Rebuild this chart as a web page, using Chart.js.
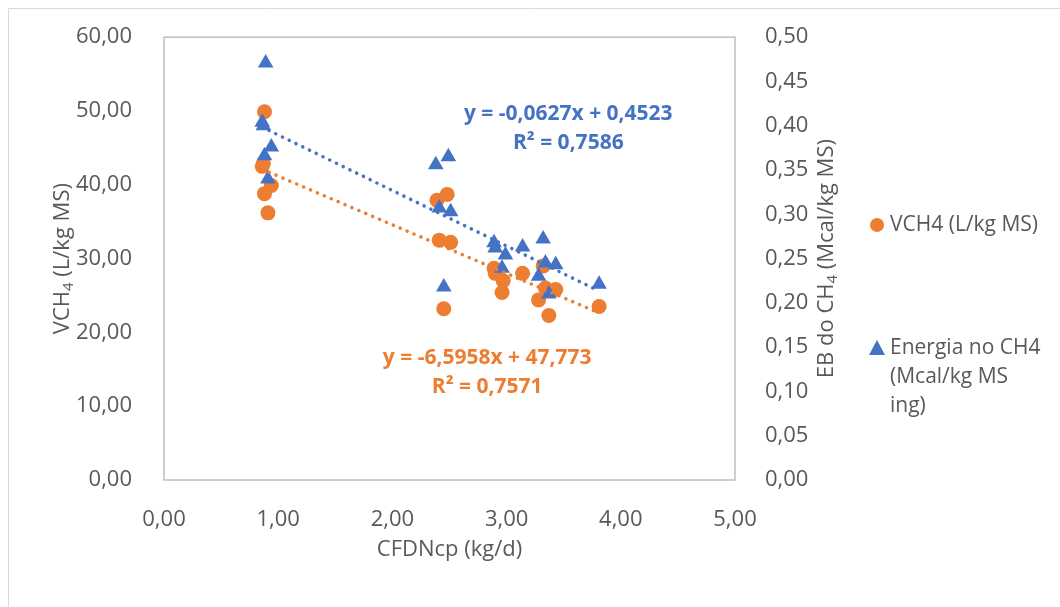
<!DOCTYPE html>
<html>
<head>
<meta charset="utf-8">
<script src="https://cdn.jsdelivr.net/npm/chart.js@4.4.1/dist/chart.umd.min.js"></script>
<style>
  html, body { margin: 0; padding: 0; background: #fff; }
  #wrap { width: 1060px; height: 607px; }
</style>
</head>
<body>
<div id="wrap"><canvas id="grafico"></canvas></div>
<script>
// dados
const xVch4 = [0.88, 0.87, 0.86, 0.94, 0.88, 0.91,
  2.39, 2.48, 2.41, 2.51, 2.45,
  2.89, 2.90, 2.97, 2.96, 3.14, 3.32, 3.34, 3.43, 3.28, 3.37, 3.81];
const vch4 = [49.9, 42.9, 42.5, 39.9, 38.8, 36.2,
  37.9, 38.7, 32.5, 32.2, 23.2,
  28.7, 28.0, 27.0, 25.4, 28.0, 29.0, 26.0, 25.8, 24.4, 22.3, 23.5];

const xEnergia = [0.89, 0.86, 0.87, 0.94, 0.88, 0.91,
  2.38, 2.49, 2.41, 2.51, 2.45,
  2.89, 2.90, 2.99, 2.96, 3.14, 3.32, 3.34, 3.43, 3.28, 3.37, 3.81];
const energia = [0.471, 0.404, 0.400, 0.376, 0.366, 0.340,
  0.356, 0.365, 0.307, 0.303, 0.218,
  0.268, 0.262, 0.254, 0.239, 0.263, 0.272, 0.245, 0.243, 0.230, 0.210, 0.221];

// linhas de tendência (equações do gráfico)
const coefVch4 = [-6.5958, 47.773];
const r2Vch4 = 0.7571;
const coefEnergia = [-0.0627, 0.4523];
const r2Energia = 0.7586;

// ticks
const xTicks = [0, 1, 2, 3, 4, 5];
const yTicks = [0, 10, 20, 30, 40, 50, 60];
const y2Ticks = [0, 0.05, 0.10, 0.15, 0.20, 0.25, 0.30, 0.35, 0.40, 0.45, 0.50];

const laranja = "#ED7D31";
const azul = "#4472C4";
const cinza = "#595959";
const fonte = "'Open Sans', 'Noto Sans', sans-serif";

function virgula(v, casas) {
  return v.toFixed(casas).replace(".", ",");
}

function pontos(xs, ys) {
  return xs.map((x, i) => ({ x: x, y: ys[i] }));
}

function tendencia(xs, coef) {
  const x0 = Math.min(...xs);
  const x1 = Math.max(...xs);
  return [
    { x: x0, y: coef[0] * x0 + coef[1] },
    { x: x1, y: coef[0] * x1 + coef[1] },
  ];
}

// texto com subscrito (CH4)
function textoSub(ctx, partes, x, y, tam) {
  // partes: [texto, ehSub]
  let largura = 0;
  partes.forEach(p => {
    ctx.font = (p[1] ? tam * 0.68 : tam) + "px " + fonte;
    largura += ctx.measureText(p[0]).width;
  });
  let cx = x - largura / 2;
  partes.forEach(p => {
    ctx.font = (p[1] ? tam * 0.68 : tam) + "px " + fonte;
    ctx.fillText(p[0], cx, p[1] ? y + tam * 0.28 : y);
    cx += ctx.measureText(p[0]).width;
  });
}

const extras = {
  id: "extras",
  beforeDraw(chart) {
    const ctx = chart.ctx;
    ctx.save();
    ctx.strokeStyle = "#d9d9d9";
    ctx.lineWidth = 1;
    ctx.beginPath();
    ctx.moveTo(8.5, 607);
    ctx.lineTo(8.5, 8.5);
    ctx.lineTo(1060, 8.5);
    ctx.stroke();
    ctx.restore();
  },
  beforeDatasetsDraw(chart) {
    const a = chart.chartArea;
    const ctx = chart.ctx;
    ctx.save();
    ctx.strokeStyle = "#bfbfbf";
    ctx.lineWidth = 1.5;
    ctx.strokeRect(a.left, a.top, a.right - a.left, a.bottom - a.top);
    ctx.restore();
  },
  afterDraw(chart) {
    const ctx = chart.ctx;
    const a = chart.chartArea;
    const sx = chart.scales.x, sy = chart.scales.y, sy2 = chart.scales.y2;
    ctx.save();
    ctx.textBaseline = "middle";
    ctx.fillStyle = cinza;

    // título eixo x
    ctx.textAlign = "center";
    ctx.font = "22px " + fonte;
    ctx.fillText("CFDNcp (kg/d)", (a.left + a.right) / 2, 550);

    // título eixo y esquerdo
    ctx.textAlign = "left";
    ctx.save();
    ctx.translate(63, (a.top + a.bottom) / 2);
    ctx.rotate(-Math.PI / 2);
    textoSub(ctx, [["VCH", false], ["4", true], [" (L/kg MS)", false]], 0, 0, 22);
    ctx.restore();

    // título eixo y direito
    ctx.save();
    ctx.translate(827, (a.top + a.bottom) / 2);
    ctx.rotate(-Math.PI / 2);
    textoSub(ctx, [["EB do CH", false], ["4", true], [" (Mcal/kg MS)", false]], 0, 0, 22);
    ctx.restore();

    // equações
    ctx.textAlign = "center";
    ctx.font = "bold 21px " + fonte;
    ctx.fillStyle = azul;
    ctx.fillText("y = " + virgula(coefEnergia[0], 4) + "x + " + virgula(coefEnergia[1], 4),
      sx.getPixelForValue(3.54), sy2.getPixelForValue(0.413));
    ctx.fillText("R² = " + virgula(r2Energia, 4),
      sx.getPixelForValue(3.54), sy2.getPixelForValue(0.381));
    ctx.fillStyle = laranja;
    ctx.fillText("y = " + virgula(coefVch4[0], 4) + "x + " + virgula(coefVch4[1], 3),
      sx.getPixelForValue(2.83), sy.getPixelForValue(16.5));
    ctx.fillText("R² = " + virgula(r2Vch4, 4),
      sx.getPixelForValue(2.83), sy.getPixelForValue(12.6));

    // legenda
    ctx.textAlign = "left";
    ctx.font = "21px " + fonte;
    ctx.fillStyle = laranja;
    ctx.beginPath();
    ctx.arc(877, 225, 7, 0, Math.PI * 2);
    ctx.fill();
    ctx.fillStyle = cinza;
    ctx.fillText("VCH4 (L/kg MS)", 890, 225);

    ctx.fillStyle = azul;
    ctx.beginPath();
    ctx.moveTo(877, 340);
    ctx.lineTo(885, 355);
    ctx.lineTo(869, 355);
    ctx.closePath();
    ctx.fill();
    ctx.fillStyle = cinza;
    ctx.fillText("Energia no CH4", 890, 348);
    ctx.fillText("(Mcal/kg MS", 890, 377);
    ctx.fillText("ing)", 890, 406);
    ctx.restore();
  },
};

const tickFont = { family: fonte, size: 22 };

new Chart(document.getElementById("grafico"), {
  type: "scatter",
  data: {
    datasets: [
      {
        label: "Linear (VCH4)",
        data: tendencia(xVch4, coefVch4),
        yAxisID: "y",
        showLine: true,
        borderColor: laranja,
        borderWidth: 3.5,
        borderDash: [0.1, 7.4],
        borderCapStyle: "round",
        pointRadius: 0,
        order: 0,
      },
      {
        label: "Linear (Energia)",
        data: tendencia(xEnergia, coefEnergia),
        yAxisID: "y2",
        showLine: true,
        borderColor: azul,
        borderWidth: 3.5,
        borderDash: [0.1, 7.4],
        borderCapStyle: "round",
        pointRadius: 0,
        order: 0,
      },
      {
        label: "Energia no CH4 (Mcal/kg MS ing)",
        data: pontos(xEnergia, energia),
        yAxisID: "y2",
        pointStyle: "triangle",
        pointRadius: 9,
        backgroundColor: azul,
        borderColor: azul,
        borderWidth: 0,
        order: 1,
      },
      {
        label: "VCH4 (L/kg MS)",
        data: pontos(xVch4, vch4),
        yAxisID: "y",
        pointStyle: "circle",
        pointRadius: 7.5,
        backgroundColor: laranja,
        borderColor: laranja,
        borderWidth: 0,
        order: 2,
      },
    ],
  },
  options: {
    responsive: true,
    maintainAspectRatio: false,
    animation: false,
    events: [],
    layout: { padding: { top: 32, left: 0, right: 0, bottom: 0 } },
    plugins: { legend: { display: false }, tooltip: { enabled: false } },
    scales: {
      x: {
        type: "linear",
        min: 0,
        max: 5,
        afterBuildTicks: s => { s.ticks = xTicks.map(v => ({ value: v })); },
        afterFit: s => { s.height = 127; },
        grid: { display: false },
        border: { display: false },
        ticks: { autoSkip: false, maxRotation: 0, color: cinza, font: tickFont, padding: 19,
          callback: v => virgula(v, 2) },
      },
      y: {
        position: "left",
        min: 0,
        max: 60,
        afterBuildTicks: s => { s.ticks = yTicks.map(v => ({ value: v })); },
        afterFit: s => { s.width = 164; },
        grid: { display: false },
        border: { display: false },
        ticks: { autoSkip: false, color: cinza, font: tickFont, padding: 24,
          callback: v => virgula(v, 2) },
      },
      y2: {
        position: "right",
        min: 0,
        max: 0.5,
        afterBuildTicks: s => { s.ticks = y2Ticks.map(v => ({ value: v })); },
        afterFit: s => { s.width = 325; },
        grid: { display: false },
        border: { display: false },
        ticks: { autoSkip: false, color: cinza, font: tickFont, padding: 22,
          callback: v => virgula(v, 2) },
      },
    },
  },
  plugins: [extras],
});
</script>
</body>
</html>
